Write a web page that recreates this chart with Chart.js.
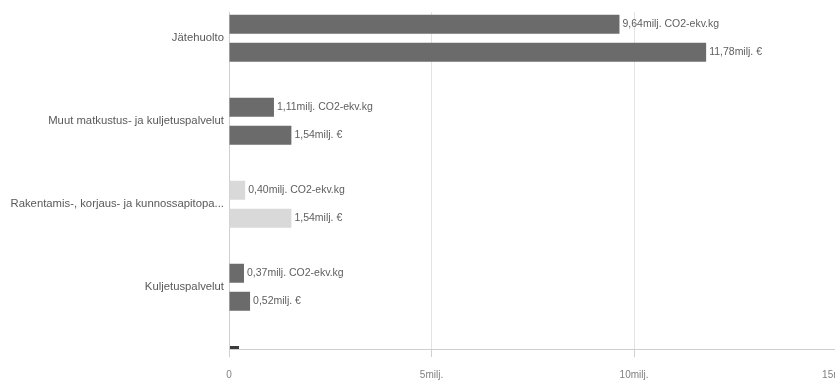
<!DOCTYPE html>
<html>
<head>
<meta charset="utf-8">
<script src="https://cdn.jsdelivr.net/npm/chart.js@4"></script>
<style>
  html, body { margin: 0; padding: 0; background: #fff; overflow: hidden; }
  #wrap { position: relative; width: 863px; height: 380px; }
</style>
</head>
<body>
<div id="wrap"><canvas id="chart"></canvas></div>
<script>
// ===== Data =====
const categories = [
  'Jätehuolto',
  'Muut matkustus- ja kuljetuspalvelut',
  'Rakentamis-, korjaus- ja kunnossapitopa...',
  'Kuljetuspalvelut'
];
const co2Values = [9.64, 1.11, 0.40, 0.37];   // milj. CO2-ekv.kg
const euroValues = [11.78, 1.54, 1.54, 0.52]; // milj. €
const seriesUnits = ['CO2-ekv.kg', '€'];
const xTicks = [0, 5, 10, 15];

const barColors = ['#6b6b6b', '#6b6b6b', '#d9d9d9', '#6b6b6b'];
const FONT = "'Liberation Sans', 'Noto Sans', sans-serif";

const toPoints = vals => vals.map((v, i) => ({ x: v, y: i }));
const fmt = v => v.toFixed(2).replace('.', ',');

// ===== Value labels + scroll marker =====
const valueLabels = {
  id: 'valueLabels',
  afterDatasetsDraw(chart) {
    const ctx = chart.ctx;
    ctx.save();
    ctx.font = '10.5px ' + FONT;
    ctx.fillStyle = '#5e5e5e';
    ctx.textAlign = 'left';
    ctx.textBaseline = 'middle';
    chart.data.datasets.forEach((ds, di) => {
      chart.getDatasetMeta(di).data.forEach((bar, i) => {
        ctx.fillText(fmt(ds.data[i].x) + 'milj. ' + seriesUnits[di], bar.x + 3, bar.y);
      });
    });
    // small scrollbar indicator at the bottom of the plot
    const a = chart.chartArea;
    ctx.fillStyle = '#3c3c3c';
    ctx.fillRect(a.left + 1, a.bottom - 3, 9, 3);
    ctx.restore();
  }
};

document.addEventListener('DOMContentLoaded', () => {
  const ctx = document.getElementById('chart');

  new Chart(ctx, {
    type: 'bar',
    data: {
      datasets: [
        { label: 'CO2-ekv.kg', data: toPoints(co2Values), backgroundColor: barColors },
        { label: '€', data: toPoints(euroValues), backgroundColor: barColors }
      ]
    },
    options: {
      indexAxis: 'y',
      responsive: true,
      maintainAspectRatio: false,
      animation: false,
      events: [],
      categoryPercentage: 0.675,
      barPercentage: 0.68,
      layout: { padding: { top: 12, left: 0, right: 0, bottom: 0 } },
      plugins: {
        legend: { display: false },
        tooltip: { enabled: false }
      },
      scales: {
        x: {
          type: 'linear',
          min: 0,
          max: 15,
          afterBuildTicks: scale => { scale.ticks = xTicks.map(v => ({ value: v })); },
          afterFit: scale => { scale.height = 31; },
          ticks: {
            color: '#808080',
            font: { family: FONT, size: 10 },
            padding: 12,
            maxRotation: 0,
            callback: v => v === 0 ? '0' : v + 'milj.'
          },
          grid: { color: '#e3e3e3', tickLength: 8, tickColor: '#d0d0d0' },
          border: { color: '#cfcfcf' }
        },
        y: {
          type: 'linear',
          reverse: true,
          offset: false,
          min: -0.317,
          max: 3.743,
          afterFit: scale => { scale.width = 229; },
          ticks: {
            stepSize: 1,
            includeBounds: false,
            autoSkip: false,
            padding: 5,
            color: '#595959',
            font: { family: FONT, size: 11.3 },
            callback: v => Number.isInteger(v) && categories[v] !== undefined ? categories[v] : ''
          },
          grid: { display: false, drawTicks: false },
          border: { color: '#cfcfcf' }
        }
      }
    },
    plugins: [valueLabels]
  });
});
</script>
</body>
</html>
